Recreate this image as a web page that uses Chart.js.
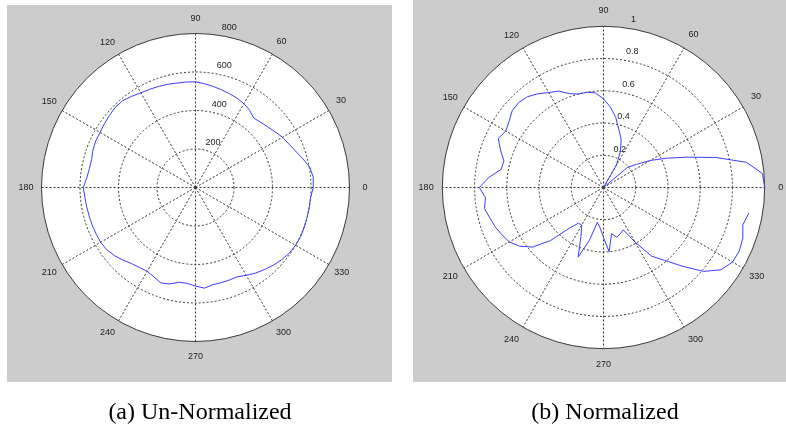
<!DOCTYPE html>
<html>
<head>
<meta charset="utf-8">
<title>Polar patterns</title>
<script src="https://cdn.jsdelivr.net/npm/chart.js@4.4.1/dist/chart.umd.min.js"></script>
<style>
  html, body { margin: 0; padding: 0; background: #fff; }
  body { width: 786px; height: 430px; position: relative; overflow: hidden; }
  .panel { position: absolute; background: #cccccc; }
  .layer { position: absolute; left: 0; top: 0; width: 786px; height: 430px; }
  .caption {
    position: absolute; top: 399px;
    font: 24px/24px "Liberation Serif", "Times New Roman", serif;
    color: #000; white-space: nowrap; transform: translateX(-50%);
  }
</style>
</head>
<body>
<div class="panel" style="left:7px;top:5px;width:385px;height:377px"></div>
<div class="panel" style="left:413px;top:0;width:373px;height:382px"></div>
<div class="layer"><canvas id="unnorm"></canvas></div>
<div class="layer"><canvas id="norm"></canvas></div>
<div class="caption" style="left:200px">(a) Un-Normalized</div>
<div class="caption" style="left:605px">(b) Normalized</div>

<script>
// angle of each sample, degrees (MATLAB polar: 0 at right, anticlockwise)
const angles = [
    0,   5,  10,  15,  20,  25,  30,  35,  40,  45,  50,  55,
   60,  65,  70,  75,  80,  85,  90,  95, 100, 105, 110, 115,
  120, 125, 130, 135, 140, 145, 150, 155, 160, 165, 170, 175,
  180, 185, 190, 195, 200, 205, 210, 215, 220, 225, 230, 235,
  240, 245, 250, 255, 260, 265, 270, 275, 280, 285, 290, 295,
  300, 305, 310, 315, 320, 325, 330, 335, 340, 345, 350, 355
];

// (a) raw magnitude
const unNormalized = [
  612, 614, 603, 577, 553, 535, 522, 505, 490, 479, 471, 490,
  503, 512, 518, 525, 533, 541, 549, 550, 551, 555, 559, 563,
  568, 578, 589, 589, 583, 578, 572, 572, 567, 559, 560, 567,
  583, 577, 574, 572, 571, 570, 569, 563, 550, 533, 516, 508,
  502, 512, 527, 519, 500, 500, 512, 525, 513, 512, 512, 512,
  527, 543, 557, 571, 584, 595, 600, 603, 602, 600, 600, 600
];

// (b) normalised, the trace is open between 350 and 0
const normalized = [
  1.00, 0.99, 0.90, 0.72, 0.55, 0.43, 0.335, 0.25, 0.195, 0, 0, 0,
  0.16, 0.25, 0.32, 0.37, 0.44, 0.50, 0.55, 0.59, 0.60, 0.60, 0.62, 0.66,
  0.68, 0.71, 0.735, 0.745, 0.74, 0.715, 0.70, 0.72, 0.68, 0.64, 0.645, 0.715,
  0.77, 0.735, 0.75, 0.73, 0.715, 0.695, 0.675, 0.635, 0.575, 0.466, 0.33, 0.27,
  0.27, 0.33, 0.46, 0.34, 0.22, 0.25, 0.31, 0.40, 0.29, 0.32, 0.305, 0.29,
  0.39, 0.52, 0.59, 0.69, 0.81, 0.89, 0.925, 0.93, 0.92, 0.895, 0.915, null
];

const unNormTicks = [200, 400, 600, 800];
const normTicks = [0.2, 0.4, 0.6, 0.8, 1];
const angleLabelStep = 30;

const FAMILY = '"Liberation Sans", Arial, sans-serif';
const FONT_SIZE = 9;
const meas = document.createElement('canvas').getContext('2d');
meas.font = FONT_SIZE + 'px ' + FAMILY;
const spaceW = meas.measureText(' ').width;

function makePolar(id, values, ticks, rMax, cx, cy, radius, fmt) {
    // radar runs clockwise from the top, so start at 90 and walk down
    const step = angles[1] - angles[0];
    const labels = angles.map((a, k) => ((90 - k * step) % 360 + 360) % 360);
    const data = labels.map(a => values[angles.indexOf(a)]);

    const place = scale => {
        scale.xCenter = cx;
        scale.yCenter = cy;
        scale.drawingArea = radius;
    };

    // angle labels sit on a circle at 1.1 * radius, like matlab
    const labelPad = c => {
        const phi = Number(c.label) * Math.PI / 180;
        const w = meas.measureText(String(c.label)).width;
        const h = FONT_SIZE * 1.2;
        return 0.1 * radius - (w / 2 * Math.abs(Math.cos(phi)) + h / 2 * Math.abs(Math.sin(phi)));
    };

    // ring labels: off to the right of the 90 spoke, a little above the ring
    const lift = 6 / radius * rMax;
    const ringLabel = v => {
        const txt = fmt(v);
        const px = 0.139 * (v / rMax) * radius + 5 + meas.measureText(txt).width / 2;
        return ' '.repeat(Math.round(2 * px / spaceW)) + txt;
    };

    return new Chart(document.getElementById(id), {
        type: 'radar',
        data: {
            labels,
            datasets: [{
                data,
                rAxisID: 'r',
                borderColor: '#3c3cff',
                borderWidth: 1,
                pointRadius: 0,
                pointHoverRadius: 0,
                fill: false,
                tension: 0,
                spanGaps: false
            }]
        },
        options: {
            responsive: true,
            maintainAspectRatio: false,
            animation: false,
            events: [],
            layout: { padding: 0 },
            plugins: { legend: { display: false }, tooltip: { enabled: false } },
            scales: {
                r: {
                    type: 'radialLinear',
                    min: 0,
                    max: rMax,
                    afterSetDimensions: place,
                    afterBuildTicks: s => { s.ticks = [0, ...ticks].map(v => ({ value: v })); },
                    backgroundColor: '#ffffff',
                    grid: {
                        circular: true,
                        color: c => (c.tick.value === rMax ? '#3a3a3a' : '#333'),
                        lineWidth: 1
                    },
                    border: { dash: c => (c.tick.value === rMax ? [] : [2, 2]) },
                    angleLines: {
                        color: '#333',
                        lineWidth: c => (c.label ? 1 : 0),
                        borderDash: [2, 2]
                    },
                    pointLabels: {
                        callback: l => (l % angleLabelStep === 0 ? String(l) : ''),
                        font: { family: FAMILY, size: FONT_SIZE },
                        color: '#222',
                        padding: labelPad
                    },
                    ticks: { display: false }
                },
                rl: {
                    type: 'radialLinear',
                    axis: 'r',
                    min: -lift,
                    max: rMax - lift,
                    afterSetDimensions: place,
                    afterBuildTicks: s => { s.ticks = ticks.map(v => ({ value: v })); },
                    grid: { display: false },
                    angleLines: { display: false },
                    pointLabels: { display: false },
                    ticks: {
                        color: '#222',
                        font: { family: FAMILY, size: FONT_SIZE },
                        showLabelBackdrop: false,
                        callback: v => ringLabel(v)
                    }
                }
            }
        }
    });
}

makePolar('unnorm', unNormalized, unNormTicks, 800, 195.5, 187.5, 154, v => String(v));
makePolar('norm', normalized, normTicks, 1, 603.5, 187.5, 162, v => String(Math.round(v * 10) / 10));
</script>
</body>
</html>
